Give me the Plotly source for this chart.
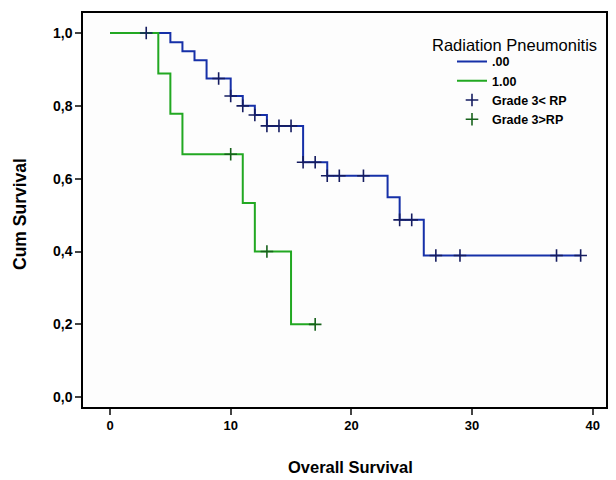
import plotly.graph_objects as go

# Group .00 (Grade 3< RP) Kaplan-Meier steps
blue_time = [0, 5, 6, 7, 8, 10, 11, 12, 13, 16, 18, 23, 24, 26, 39]
blue_surv = [1.0, 0.975, 0.95, 0.925, 0.875, 0.827, 0.80, 0.775, 0.745, 0.645, 0.608, 0.549, 0.487, 0.389, 0.389]
blue_censor = [3, 9, 10, 11, 12, 13, 14, 15, 16, 17, 18, 19, 21, 24, 25, 27, 29, 37, 39]

# Group 1.00 (Grade 3>RP)
green_time = [0, 4, 5, 6, 11, 12, 15, 17]
green_surv = [1.0, 0.889, 0.778, 0.667, 0.533, 0.40, 0.20, 0.20]
green_censor = [10, 13, 17]

x_ticks = [0, 10, 20, 30, 40]
y_ticks = [0.0, 0.2, 0.4, 0.6, 0.8, 1.0]
y_ticktext = ["0,0", "0,2", "0,4", "0,6", "0,8", "1,0"]


def step_value(times, surv, t):
    v = surv[0]
    for ti, si in zip(times, surv):
        if ti <= t:
            v = si
    return v


blue_c_y = [step_value(blue_time, blue_surv, t) for t in blue_censor]
green_c_y = [step_value(green_time, green_surv, t) for t in green_censor]

BLUE = "#1630a8"
GREEN = "#22a822"
FONT = "Liberation Sans"

# page has an 8px body margin; figure origin sits at page (8, 8)
W, H = 608, 472
ML, MT, MR, MB = 75, 3, 10, 73
PW, PH = W - ML - MR, H - MT - MB

fig = go.Figure()
fig.add_trace(go.Scatter(x=blue_time, y=blue_surv, mode="lines", line_shape="hv",
                         line=dict(color=BLUE, width=2), name=".00"))
fig.add_trace(go.Scatter(x=green_time, y=green_surv, mode="lines", line_shape="hv",
                         line=dict(color=GREEN, width=2), name="1.00"))
fig.add_trace(go.Scatter(x=blue_censor, y=blue_c_y, mode="markers", name="Grade 3< RP",
                         marker=dict(symbol="cross-thin-open", size=9, color="#151c60",
                                     line=dict(color="#151c60", width=1.6))))
fig.add_trace(go.Scatter(x=green_censor, y=green_c_y, mode="markers", name="Grade 3>RP",
                         marker=dict(symbol="cross-thin-open", size=9, color="#17621b",
                                     line=dict(color="#17621b", width=1.6))))


def px_x(p):  # page pixel -> paper x
    return (p - 8 - ML) / PW


def px_y(p):  # page pixel -> paper y
    return (H - MB - (p - 8)) / PH


fig.update_layout(
    width=W, height=H,
    margin=dict(l=ML, r=MR, t=MT, b=MB),
    paper_bgcolor="white", plot_bgcolor="#fdfdfd",
    font=dict(family=FONT, color="black"),
    showlegend=True,
    legend=dict(
        x=px_x(452), y=px_y(45), xanchor="left", yanchor="top",
        bgcolor="rgba(0,0,0,0)",
        font=dict(size=12.5, family=FONT, weight="bold"),
        tracegroupgap=0, itemwidth=30,
    ),
    xaxis=dict(range=[-2.24, 41.1], tickvals=x_ticks, ticks="outside", ticklen=6,
               tickwidth=1.5, showgrid=False, zeroline=False, showline=True,
               linecolor="black", linewidth=1.5, mirror=True,
               tickfont=dict(size=13, weight="bold")),
    yaxis=dict(range=[-0.027, 1.055], tickvals=y_ticks, ticktext=y_ticktext,
               ticks="outside", ticklen=6, tickwidth=1.5, showgrid=False,
               zeroline=False, showline=True, linecolor="black", linewidth=1.5,
               mirror=True, tickfont=dict(size=14, weight="bold")),
    annotations=[
        dict(text="Radiation Pneumonitis", xref="paper", yref="paper",
             x=px_x(430), xanchor="left", y=px_y(43), yanchor="middle",
             showarrow=False, font=dict(size=16.5)),
        dict(text="Overall Survival", xref="paper", yref="paper",
             x=px_x(350), xanchor="center", y=px_y(467), yanchor="middle",
             showarrow=False, font=dict(size=16.5, weight="bold")),
        dict(text="Cum Survival", xref="paper", yref="paper",
             x=px_x(20), xanchor="center", y=px_y(213), yanchor="middle",
             showarrow=False, textangle=-90, font=dict(size=17.5, weight="bold")),
    ],
)

fig.write_html("out.html")
